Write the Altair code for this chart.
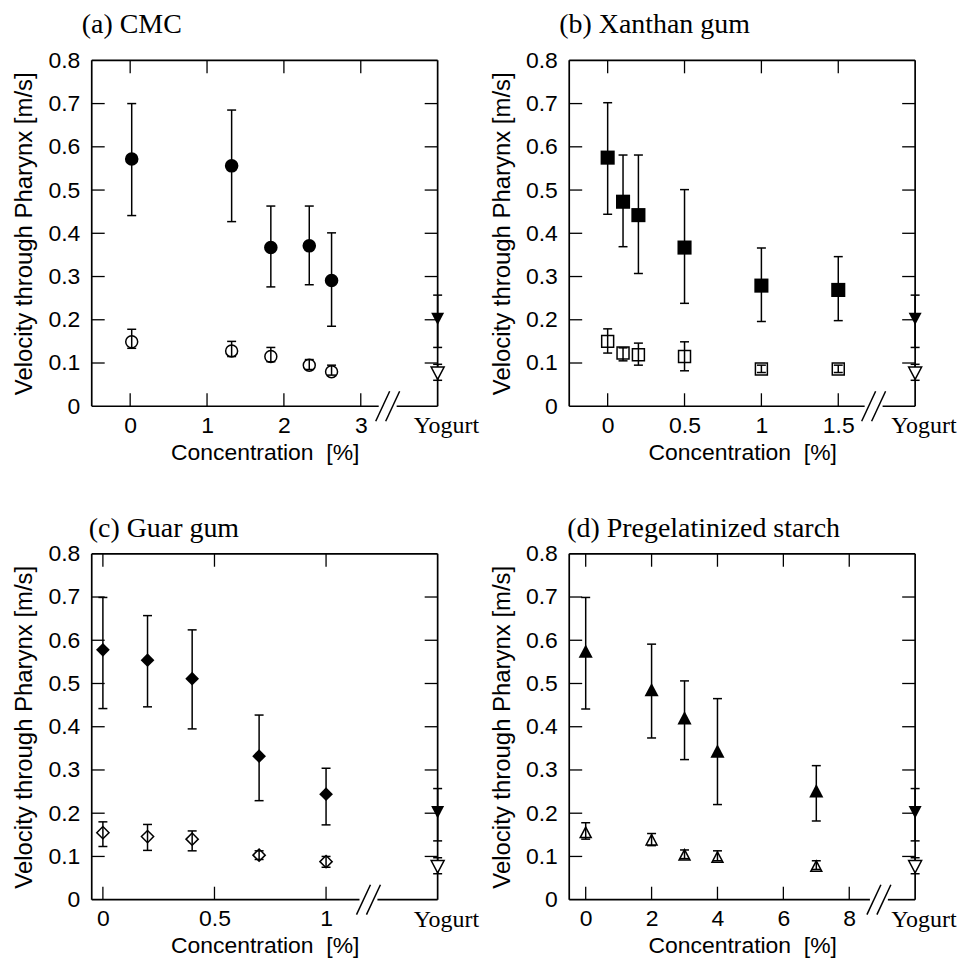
import altair as alt
import pandas as pd

# ---------------- data ----------------
TITLES = ["(a) CMC", "(b) Xanthan gum", "(c) Guar gum", "(d) Pregelatinized starch"]
X_DOMAINS = [[-0.5, 4.0], [-0.25, 2.0], [-0.05, 1.5], [-0.5, 10.0]]
X_TICKS = [[0, 1, 2, 3], [0, 0.5, 1, 1.5], [0, 0.5, 1], [0, 2, 4, 6, 8]]
BREAKS = [3.35, 1.73, 1.19, 8.9]
Y_TICKS = [0, 0.1, 0.2, 0.3, 0.4, 0.5, 0.6, 0.7, 0.8]

A_x = [0.02, 1.32, 1.83, 2.33, 2.62]
A_f = [0.572, 0.556, 0.367, 0.371, 0.291]
A_f_lo = [0.441, 0.427, 0.276, 0.281, 0.185]
A_f_hi = [0.700, 0.685, 0.463, 0.463, 0.401]
A_o = [0.149, 0.128, 0.115, 0.095, 0.080]
A_o_lo = [0.134, 0.115, 0.103, 0.085, 0.072]
A_o_hi = [0.178, 0.150, 0.136, 0.108, 0.095]

B_x = [0, 0.1, 0.2, 0.5, 1.0, 1.5]
B_f = [0.575, 0.473, 0.442, 0.367, 0.279, 0.269]
B_f_lo = [0.444, 0.369, 0.307, 0.238, 0.196, 0.198]
B_f_hi = [0.702, 0.581, 0.581, 0.501, 0.366, 0.346]
B_o = [0.150, 0.123, 0.119, 0.115, 0.086, 0.086]
B_o_lo = [0.123, 0.105, 0.095, 0.082, 0.078, 0.078]
B_o_hi = [0.179, 0.135, 0.146, 0.149, 0.095, 0.095]

C_x = [0, 0.2, 0.4, 0.7, 1.0]
C_f = [0.578, 0.554, 0.511, 0.332, 0.244]
C_f_lo = [0.442, 0.446, 0.395, 0.229, 0.173]
C_f_hi = [0.699, 0.657, 0.624, 0.427, 0.304]
C_o = [0.155, 0.146, 0.140, 0.103, 0.088]
C_o_lo = [0.123, 0.114, 0.113, 0.093, 0.075]
C_o_hi = [0.180, 0.174, 0.159, 0.113, 0.100]

D_x = [0, 2, 3, 4, 7]
D_f = [0.574, 0.485, 0.420, 0.343, 0.251]
D_f_lo = [0.441, 0.374, 0.324, 0.220, 0.182]
D_f_hi = [0.699, 0.591, 0.506, 0.465, 0.310]
D_o = [0.155, 0.138, 0.103, 0.098, 0.077]
D_o_lo = [0.140, 0.125, 0.095, 0.090, 0.070]
D_o_hi = [0.178, 0.153, 0.115, 0.113, 0.090]

YOG_LABEL = "Yogurt"
YOG_F = [0.203]
YOG_F_LO = [0.136]
YOG_F_HI = [0.257]
YOG_O = [0.077]
YOG_O_LO = [0.060]
YOG_O_HI = [0.097]

# ---------------- style ----------------
W = 347
H = 347
SANS = "Liberation Sans"
SERIF = "Liberation Serif"
TRI_UP = "M0,-1L1,0.9L-1,0.9Z"
TRI_DOWN = "M0,1L1,-0.9L-1,-0.9Z"

SHAPES = [("circle", 185, "circle", 144),
          ("square", 200, "square", 144),
          ("diamond", 190, "diamond", 150),
          (TRI_UP, 200, TRI_UP, 121)]
TITLE_DX = [-10, -10, -3, -2]
TITLE_OFFSET = [10, 10, 0, 0]


def panel(i, xs, f, flo, fhi, o, olo, ohi):
    xmin, xmax = X_DOMAINS[i]
    ppx = (xmax - xmin) / W      # data units per pixel (x)
    ppy = 0.8 / H                # data units per pixel (y)
    xscale = alt.Scale(domain=[xmin, xmax], nice=False, zero=False)
    yscale = alt.Scale(domain=[0, 0.8], nice=False, zero=False)
    xaxis = alt.Axis(values=X_TICKS[i], format="~g", title="Concentration\u00a0 [%]",
                     ticks=False, domain=False, grid=False, labelFlush=False,
                     labelPadding=8, titlePadding=4)
    yaxis = alt.Axis(values=Y_TICKS, format="~g", title="Velocity through Pharynx [m/s]",
                     ticks=False, domain=False, grid=False, labelFlush=False,
                     labelPadding=12, titlePadding=11, titleFontSize=24)

    def X(field):
        return alt.X(field, type="quantitative", scale=xscale, axis=xaxis)

    def Y(field):
        return alt.Y(field, type="quantitative", scale=yscale, axis=yaxis)

    brk = BREAKS[i]
    frame_df = pd.DataFrame({
        "x": [xmin, xmin, xmax, xmin, brk + 9 * ppx],
        "x2": [xmax, xmin, xmax, brk - 9 * ppx, xmax],
        "y": [0.8, 0, 0, 0, 0],
        "y2": [0.8, 0.8, 0.8, 0, 0],
    })
    slash_df = pd.DataFrame({
        "x": [brk - 5 * ppx - 7 * ppx, brk + 5 * ppx - 7 * ppx],
        "x2": [brk - 5 * ppx + 7 * ppx, brk + 5 * ppx + 7 * ppx],
        "y": [-15 * ppy, -15 * ppy],
        "y2": [15 * ppy, 15 * ppy],
    })
    xt_df = pd.DataFrame({"x": X_TICKS[i]})
    yt_df = pd.DataFrame({"y": Y_TICKS[1:-1]})

    fdf = pd.DataFrame({"x": xs, "y": f, "lo": flo, "hi": fhi})
    odf = pd.DataFrame({"x": xs, "y": o, "lo": olo, "hi": ohi})
    yf = pd.DataFrame({"x": [xmax], "y": YOG_F, "lo": YOG_F_LO, "hi": YOG_F_HI})
    yo = pd.DataFrame({"x": [xmax], "y": YOG_O, "lo": YOG_O_LO, "hi": YOG_O_HI})
    alldf = pd.concat([fdf, odf, yf, yo], ignore_index=True)
    caps = pd.DataFrame({"x": list(alldf["x"]) * 2,
                         "y": list(alldf["lo"]) + list(alldf["hi"])})

    lw = 1.5
    layers = [
        alt.Chart(frame_df).mark_rule(color="black", strokeWidth=1.7).encode(
            x=X("x"), x2="x2", y=Y("y"), y2="y2"),
        alt.Chart(slash_df).mark_rule(color="black", strokeWidth=1.5).encode(
            x=X("x"), x2="x2", y=Y("y"), y2="y2"),
        alt.Chart(xt_df).mark_rule(color="black", strokeWidth=1.3).encode(
            x=X("x"), y=alt.value(H), y2=alt.value(H - 13)),
        alt.Chart(xt_df).mark_rule(color="black", strokeWidth=1.3).encode(
            x=X("x"), y=alt.value(0), y2=alt.value(13)),
        alt.Chart(yt_df).mark_rule(color="black", strokeWidth=1.3).encode(
            y=Y("y"), x=alt.value(0), x2=alt.value(13)),
        alt.Chart(yt_df).mark_rule(color="black", strokeWidth=1.3).encode(
            y=Y("y"), x=alt.value(W - 13), x2=alt.value(W)),
        alt.Chart(alldf).mark_rule(color="black", strokeWidth=lw).encode(
            x=X("x"), y=Y("lo"), y2="hi"),
        alt.Chart(caps).mark_tick(color="black", orient="horizontal", size=9,
                                  thickness=lw, opacity=1).encode(
            x=X("x"), y=Y("y")),
    ]
    fshape, fsize, oshape, osize = SHAPES[i]
    layers += [
        alt.Chart(fdf).mark_point(shape=fshape, size=fsize, filled=True,
                                  color="black", opacity=1).encode(x=X("x"), y=Y("y")),
        alt.Chart(odf).mark_point(shape=oshape, size=osize, filled=False,
                                  color="black", strokeWidth=1.5, opacity=1).encode(
            x=X("x"), y=Y("y")),
        alt.Chart(yf).mark_point(shape=TRI_DOWN, size=169, filled=True,
                                 color="black", opacity=1).encode(x=X("x"), y=Y("y")),
        alt.Chart(yo).mark_point(shape=TRI_DOWN, size=169, filled=True, fill="white",
                                 stroke="black", strokeWidth=1.5, opacity=1).encode(
            x=X("x"), y=Y("y")),
        alt.Chart(pd.DataFrame({"x": [xmax], "label": [YOG_LABEL]})).mark_text(
            font=SERIF, fontSize=24, align="left", baseline="top", dx=-24,
            color="black").encode(x=X("x"), y=alt.value(H + 8), text="label:N"),
    ]
    return alt.layer(*layers).properties(
        width=W, height=H,
        title=alt.TitleParams(TITLES[i], font=SERIF, fontSize=28, fontWeight="normal",
                              anchor="start", frame="group", dx=TITLE_DX[i],
                              offset=TITLE_OFFSET[i], color="black"))


pa = panel(0, A_x, A_f, A_f_lo, A_f_hi, A_o, A_o_lo, A_o_hi)
pb = panel(1, B_x, B_f, B_f_lo, B_f_hi, B_o, B_o_lo, B_o_hi)
pc = panel(2, C_x, C_f, C_f_lo, C_f_hi, C_o, C_o_lo, C_o_hi)
pd_ = panel(3, D_x, D_f, D_f_lo, D_f_hi, D_o, D_o_lo, D_o_hi)

chart = alt.concat(pa, pb, pc, pd_, columns=2,
                   spacing={"row": 148, "column": 132}, bounds="flush").properties(
    padding={"left": 5, "top": 2, "right": 0, "bottom": 0}
).configure_view(stroke=None).configure_axis(
    labelFont=SANS, labelFontSize=23, labelColor="black",
    titleFont=SANS, titleFontSize=23, titleFontWeight="normal", titleColor="black"
)

chart.save("out.html", embed_options={"renderer": "svg", "actions": False})
